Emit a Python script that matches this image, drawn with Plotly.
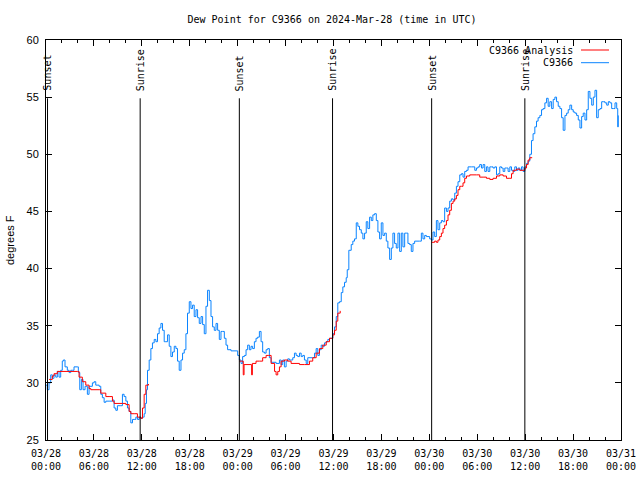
import pandas as pd
import plotly.graph_objects as go

BASE = pd.Timestamp("2024-03-28 00:00")

# Observed dew point (hours since 2024-03-28 00:00 UTC, degrees F)
obs_hours = [0.0, 0.16, 0.38, 0.59, 0.79, 1.0, 1.22, 1.42, 1.63, 1.84, 2.04, 2.17, 2.38, 2.67, 2.89,
             3.10, 3.30, 3.51, 3.93, 4.05, 4.23, 4.43, 4.64, 4.89, 5.18, 5.39, 5.81, 6.02, 6.23, 6.65,
             6.86, 7.06, 7.28, 7.49, 7.90, 8.32, 8.53, 8.74, 8.94, 9.37, 9.57, 9.78, 10.0, 10.2, 10.41,
             10.62, 10.83, 11.04, 11.25, 11.45, 11.67, 11.88, 12.08, 12.29, 12.42, 12.58, 12.71, 12.92,
             13.13, 13.33, 13.55, 13.76, 13.96, 14.17, 14.39, 14.59, 14.80, 15.01, 15.22, 15.43, 15.64,
             15.84, 16.06, 16.27, 16.47, 16.68, 16.9, 17.1, 17.31, 17.52, 17.72, 17.94, 18.15, 18.35,
             18.56, 18.78, 18.98, 19.19, 19.41, 19.61, 19.82, 20.03, 20.23, 20.45, 20.66, 20.86, 21.07,
             21.29, 21.49, 21.70, 21.91, 22.12, 22.33, 22.54, 22.74, 23.17, 23.8, 24.0, 24.21, 24.42,
             24.62, 24.84, 25.05, 25.25, 25.46, 25.67, 25.87, 26.09, 26.3, 26.5, 26.72, 26.93, 27.13,
             27.35, 27.56, 27.76, 27.97, 28.19, 28.81, 29.23, 29.44, 29.64, 29.85, 30.07, 30.27, 30.48,
             30.9, 31.11, 31.32, 31.52, 31.74, 31.95, 32.15, 32.36, 32.58, 32.78, 33.4, 33.62, 33.83,
             34.03, 34.24, 34.46, 34.66, 34.87, 35.09, 35.29, 35.5, 35.91, 36.13, 36.34, 36.54, 36.75,
             36.97, 37.17, 37.38, 37.59, 37.72, 37.92, 38.22, 38.42, 38.63, 38.85, 39.05, 39.26, 39.48,
             39.68, 39.89, 40.1, 40.3, 40.52, 40.73, 40.93, 41.14, 41.36, 41.56, 41.77, 41.98, 42.19,
             42.4, 42.61, 42.81, 43.03, 43.24, 43.44, 43.65, 43.86, 44.07, 44.28, 44.49, 44.69, 44.91,
             45.12, 45.32, 45.53, 45.74, 45.95, 46.16, 46.79, 47.0, 47.2, 47.42, 47.63, 48.04, 48.25,
             48.46, 48.67, 48.88, 49.08, 49.3, 49.51, 49.71, 49.92, 50.14, 50.34, 50.55, 50.76, 50.97,
             51.18, 51.39, 51.59, 51.81, 52.02, 52.22, 52.43, 52.65, 52.85, 53.27, 53.47, 53.69, 53.9,
             54.1, 54.31, 54.53, 54.73, 54.94, 55.15, 55.35, 55.57, 55.78, 55.98, 56.2, 56.41, 56.61,
             56.82, 57.04, 57.24, 57.45, 57.66, 57.86, 58.08, 58.29, 58.49, 58.7, 58.92, 59.12, 59.33,
             59.54, 59.74, 59.96, 60.17, 60.37, 60.58, 60.79, 60.99, 61.21, 61.42, 61.62, 61.84, 62.05,
             62.25, 62.47, 62.68, 62.88, 63.09, 63.31, 63.51, 63.72, 63.93, 64.14, 64.35, 64.56, 64.76,
             64.98, 65.19, 65.39, 65.6, 65.82, 66.02, 66.23, 66.44, 66.65, 66.86, 67.07, 67.27, 67.49,
             67.7, 67.9, 68.11, 68.33, 68.53, 68.74, 68.95, 69.15, 69.37, 69.58, 69.78, 69.99, 70.21,
             70.41, 70.62, 70.83, 71.04, 71.25, 71.46, 71.59, 71.66]
obs_values = [29.8, 29.4, 30.0, 30.7, 30.4, 30.7, 30.5, 31.0, 30.5, 31.1, 31.9, 32.0, 31.4, 31.1, 30.9,
              31.1, 31.1, 31.4, 31.4, 30.9, 29.4, 30.3, 29.4, 29.7, 29.0, 29.7, 30.0, 30.1, 29.8, 29.7,
              29.0, 28.7, 28.3, 28.4, 28.4, 28.5, 27.8, 27.6, 28.0, 28.0, 29.0, 28.8, 28.4, 27.8, 27.5,
              26.5, 26.8, 26.8, 27.0, 26.8, 27.0, 26.9, 27.0, 27.3, 28.2, 29.4, 31.1, 32.0,
              33.0, 33.5, 33.8, 33.6, 34.3, 34.8, 35.2, 34.6, 33.6, 33.6, 34.2, 33.2, 32.3,
              32.7, 33.2, 33.0, 31.9, 31.1, 32.0, 32.6, 32.9, 34.3, 36.1, 37.1, 36.5, 36.8,
              35.8, 36.4, 35.7, 35.2, 35.8, 35.1, 34.3, 36.7, 38.1, 37.2, 35.8, 34.9, 34.6,
              35.2, 34.6, 33.8, 34.5, 34.5, 33.9, 33.3, 32.9, 32.8, 32.8, 32.4, 32.0, 31.7,
              32.3, 32.4, 32.9, 33.3, 32.9, 33.2, 33.0, 33.6, 33.9, 34.0, 34.5, 33.6, 32.7,
              32.6, 32.9, 33.0, 32.2, 31.8, 31.7, 32.0, 31.6, 32.0, 31.4, 31.9, 32.1, 32.0,
              32.2, 32.6, 32.4, 32.3, 32.6, 32.3, 32.4, 32.0, 31.7, 32.2, 32.2, 32.6, 33.0,
              32.4, 32.9, 33.3, 33.2, 33.5, 33.6, 33.8, 33.9, 34.3, 34.9, 35.8, 37.0, 37.1,
              37.9, 38.4, 38.8, 39.2, 39.9, 41.6, 42.1, 42.4, 42.6, 44.0, 43.7, 43.4, 43.1,
              42.6, 43.1, 44.1, 43.5, 44.5, 44.2, 44.7, 44.8, 44.2, 43.2, 42.6, 44.0, 42.9,
              43.1, 42.4, 41.8, 40.8, 41.8, 43.1, 42.2, 41.8, 43.1, 41.5, 43.1, 41.9, 43.1,
              43.1, 42.2, 42.1, 41.5, 42.2, 42.4, 42.4, 43.1, 42.6, 42.9, 42.8, 42.6, 42.5,
              43.2, 42.8, 44.2, 43.4, 44.0, 44.2, 44.1, 45.3, 45.0, 45.3, 45.9, 46.1, 46.0,
              46.6, 47.2, 47.6, 48.2, 48.3, 48.0, 48.5, 48.6, 48.9, 48.9, 48.9, 48.6, 48.8,
              48.9, 49.1, 48.8, 49.1, 48.5, 48.9, 48.5, 48.9, 48.9, 48.8, 48.9, 48.2, 48.3,
              48.9, 48.8, 48.5, 48.8, 48.8, 48.5, 48.9, 48.6, 48.5, 48.9, 48.6, 48.8, 48.6,
              48.9, 48.5, 48.9, 49.2, 49.4, 50.0, 51.2, 51.8, 52.4, 52.9, 53.2, 53.4, 53.9,
              54.0, 54.5, 54.9, 54.2, 54.6, 54.0, 54.8, 55.0, 54.6, 54.2, 54.0, 53.2, 52.1,
              53.4, 53.6, 53.9, 54.3, 53.9, 53.7, 53.6, 53.4, 53.0, 52.3, 53.3, 53.6, 53.0,
              53.9, 55.5, 54.9, 54.3, 55.0, 55.6, 53.2, 53.9, 54.0, 54.6, 54.6, 54.5, 54.3,
              54.6, 54.5, 54.0, 54.0, 54.5, 54.0, 52.4, 53.4]

# Analysis (None marks gaps)
ana_hours = [0.38, 0.79, 1.0, 1.42, 3.93, 4.14, 4.55, 4.98, 5.39, 5.61, 6.65, 6.86, 7.49, 7.9, 8.32,
             8.53, 9.57, 10.0, 10.41, 10.62, 11.04, 11.45, 11.88, 12.08, 12.29, 12.5, 12.83, 12.9,
             24.21, 24.46, 24.7, 24.72, 24.8, 25.71, 25.75, 25.77, 25.84, 26.3, 26.72, 27.13, 27.56,
             27.89, 28.19, 28.62, 28.81, 29.02, 29.23, 29.44, 29.85, 30.27, 30.69, 31.74, 32.36, 32.99,
             33.4, 33.83, 34.24, 34.66, 35.09, 35.5, 35.91, 36.13, 36.34, 36.54, 36.84, 36.9,
             48.29, 48.67, 48.88, 49.08, 49.3, 49.51, 49.71, 49.92, 50.14, 50.34, 50.55, 50.76, 50.97,
             51.18, 51.39, 51.59, 51.81, 52.02, 52.22, 52.43, 52.65, 53.06, 53.9, 54.31, 54.73, 55.15,
             55.57, 55.98, 56.41, 56.82, 57.24, 57.66, 57.99, 58.29, 58.49, 58.92, 59.33, 59.74, 59.96,
             60.17, 60.37, 60.58, 60.88]
ana_values = [30.3, 30.6, 30.8, 31.0, 31.0, 30.5, 30.1, 29.8, 29.5, 29.4, 29.4, 29.1, 28.8, 28.8, 28.4,
              28.2, 28.2, 28.1, 27.5, 27.3, 27.3, 27.0, 26.9, 27.8, 29.0, 29.8, 29.9, None,
              31.9, 31.9, 30.7, 30.7, 31.6, 31.6, 30.7, 30.7, 31.7, 31.9, 31.9, 32.2, 32.4,
              32.4, 31.7, 31.0, 30.7, 31.0, 31.4, 31.9, 32.0, 31.9, 31.7, 31.6, 31.6, 31.9,
              32.2, 32.6, 33.0, 33.3, 33.6, 33.9, 34.2, 34.6, 35.4, 36.1, 36.3, None,
              42.3, 42.4, 42.3, 42.5, 42.8, 43.1, 43.5, 43.8, 44.2, 44.7, 45.1, 45.7, 45.9,
              46.1, 46.4, 46.9, 47.2, 47.2, 47.5, 47.9, 48.1, 48.2, 48.2, 48.0, 48.0, 47.9,
              47.8, 47.9, 48.1, 48.2, 48.1, 47.9, 47.9, 48.3, 48.6, 48.7, 48.6, 48.6, 48.8,
              49.1, 49.5, 49.7, 49.7]

# Sun events (hours since start)
sun_hours = [0.19, 11.79, 24.21, 35.88, 48.29, 59.96]
sun_labels = ["Sunset", "Sunrise", "Sunset", "Sunrise", "Sunset", "Sunrise"]

tick_hours = list(range(0, 73, 6))
tick_labels = ["03/28<br>00:00", "03/28<br>06:00", "03/28<br>12:00", "03/28<br>18:00",
               "03/29<br>00:00", "03/29<br>06:00", "03/29<br>12:00", "03/29<br>18:00",
               "03/30<br>00:00", "03/30<br>06:00", "03/30<br>12:00", "03/30<br>18:00",
               "03/31<br>00:00"]


def to_time(h):
    return BASE + pd.Timedelta(hours=h)


obs_x = [to_time(h) for h in obs_hours]
ana_x = [to_time(h) for h in ana_hours]

BLUE = "#0a84ff"
RED = "#ff0000"
MONO = "DejaVu Sans Mono"
SANS = "Liberation Sans"

fig = go.Figure()
fig.add_trace(go.Scatter(x=obs_x, y=obs_values, mode="lines", name="C9366",
                         line=dict(color=BLUE, width=1), line_shape="hv", connectgaps=False))
fig.add_trace(go.Scatter(x=ana_x, y=ana_values, mode="lines", name="C9366 Analysis",
                         line=dict(color=RED, width=1), line_shape="hv", connectgaps=False))

shapes = []
annotations = []
for h, lab in zip(sun_hours, sun_labels):
    shapes.append(dict(type="line", xref="x", yref="y", x0=to_time(h), x1=to_time(h),
                       y0=25, y1=54.9, line=dict(color="black", width=1)))
    annotations.append(dict(x=to_time(h), y=55.35, xref="x", yref="y", text=lab, textangle=-90,
                            showarrow=False, xanchor="center", yanchor="bottom",
                            font=dict(family=MONO, size=10, color="black")))

# gnuplot-style key (text left, sample line right)
W, H = 575.0, 400.0
key = [("C9366 Analysis", RED, 50), ("C9366", BLUE, 62.7)]
for text, col, py in key:
    yp = (440 - py) / H
    annotations.append(dict(x=(575 - 46) / W, y=yp, xref="paper", yref="paper", text=text,
                            showarrow=False, xanchor="right", yanchor="middle",
                            font=dict(family=MONO, size=10, color="black")))
    shapes.append(dict(type="line", xref="paper", yref="paper", x0=(581 - 46) / W,
                       x1=(609 - 46) / W, y0=yp, y1=yp, line=dict(color=col, width=1)))

annotations.append(dict(x=(10 - 46) / W, y=0.5, xref="paper", yref="paper", text="degrees F",
                        showarrow=False, textangle=-90, xanchor="center", yanchor="middle",
                        font=dict(family=SANS, size=11, color="black")))

fig.update_layout(
    width=640, height=480,
    margin=dict(l=46, r=19, t=40, b=40, autoexpand=False),
    paper_bgcolor="white", plot_bgcolor="white",
    showlegend=False,
    title=dict(text="Dew Point for C9366 on 2024-Mar-28 (time in UTC)", x=332 / 640, xanchor="center",
               y=1 - 19 / 480, yanchor="middle", font=dict(family=MONO, size=10, color="black")),
    shapes=shapes,
    annotations=annotations,
)
fig.update_xaxes(
    type="date", range=[to_time(0), to_time(72)], automargin=False,
    tickvals=[to_time(h) for h in tick_hours], ticktext=tick_labels,
    ticks="inside", ticklen=6, tickcolor="black", tickwidth=1,
    minor=dict(dtick=2 * 3600 * 1000, ticks="inside", ticklen=3, tickcolor="black", tickwidth=1),
    showline=True, linecolor="black", linewidth=1, mirror="ticks",
    showgrid=False, zeroline=False, ticklabelstandoff=4,
    tickfont=dict(family=MONO, size=10, color="black"),
)
fig.update_yaxes(
    range=[25, 60], tickvals=[25, 30, 35, 40, 45, 50, 55, 60], automargin=False,
    ticks="inside", ticklen=6, tickcolor="black", tickwidth=1,
    showline=True, linecolor="black", linewidth=1, mirror="ticks",
    showgrid=False, zeroline=False, ticklabelstandoff=4,
    tickfont=dict(family=SANS, size=11, color="black"),
)

fig.write_html("out.html", config={"displayModeBar": False},
               post_script="document.body.style.margin='0px';")
